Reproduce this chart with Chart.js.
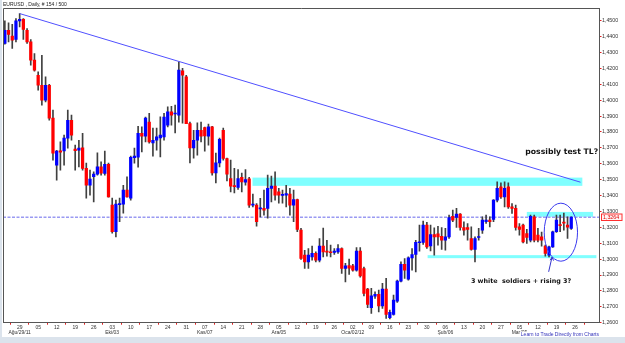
<!DOCTYPE html>
<html>
<head>
    <title>EURUSD Daily</title>
    <script src="https://cdn.jsdelivr.net/npm/chart.js"></script>
    <style>
        body {
            margin: 0;
            padding: 0;
            overflow: hidden;
            background: #dbe3ec;
        }
        #wrap {
            position: absolute;
            left: 2px;
            top: 0;
            width: 623px;
            height: 337px;
            background: #ffffff;
        }
    </style>
</head>
<body>
    <div id="wrap">
        <canvas id="myChart" width="623" height="337"></canvas>
    </div>

    <script>
        // weekdays from 23 Aug 2011, 154 bars + empty room on the right
        const categories = [];
        let d = new Date(Date.UTC(2011, 7, 23));
        while (categories.length < 161) {
            const wd = d.getUTCDay();
            if (wd !== 0 && wd !== 6) categories.push(d.toISOString().slice(0, 10));
            d.setUTCDate(d.getUTCDate() + 1);
        }

        const weekLabels = ['29','05','12','19','26','03','10','17','24','31','07','14','21','28','05','12','19','26',
                            '02','09','16','23','30','06','13','20','27','05','12','19','26'];
        const monthLabels = { 0: 'Ağu/29/11', 5: 'Eki/03', 10: 'Kas/07', 14: 'Ara/05', 18: 'Oca/02/12', 23: 'Şub/06', 27: 'Mar/05' };

        const yTickValues = [1.26, 1.27, 1.28, 1.29, 1.30, 1.31, 1.32, 1.33, 1.34, 1.35,
                             1.36, 1.37, 1.38, 1.39, 1.40, 1.41, 1.42, 1.43, 1.44, 1.45];

        const opens = [
            1.4357,1.4440,1.4403,1.4382,1.4499,1.4508,1.4440,1.4367,1.4252,1.4157,
            1.4094,1.4000,1.4094,1.3887,1.3591,1.3681,1.3681,1.3761,1.3874,1.3692,
            1.3685,1.3700,1.3572,1.3465,1.3518,1.3535,1.3580,1.3539,1.3597,1.3340,
            1.3172,1.3343,1.3346,1.3434,1.3384,1.3638,1.3641,1.3792,1.3774,1.3863,
            1.3731,1.3748,1.3763,1.3769,1.3843,1.3926,1.3913,1.3906,1.4184,1.4147,
            1.3853,1.3700,1.3748,1.3811,1.3828,1.3774,1.3832,1.3543,1.3606,1.3811,
            1.3633,1.3507,1.3462,1.3451,1.3514,1.3484,1.3505,1.3340,1.3340,1.3316,
            1.3319,1.3319,1.3445,1.3459,1.3423,1.3401,1.3402,1.3409,1.3340,1.3375,
            1.3182,1.3025,1.2983,1.3014,1.3036,1.2994,1.3082,1.3048,1.3044,1.3042,
            1.3046,1.3067,1.2941,1.2959,1.2958,1.2931,1.3050,1.2941,1.2811,1.2694,
            1.2767,1.2778,1.2706,1.2811,1.2631,1.2652,1.2736,1.2862,1.2967,1.2874,
            1.3008,1.3029,1.3103,1.3105,1.3214,1.3083,1.3155,1.3159,1.3144,1.3119,
            1.3140,1.3270,1.3262,1.3283,1.3199,1.3199,1.3130,1.3061,1.3136,1.3182,
            1.3235,1.3245,1.3250,1.3371,1.3455,1.3392,1.3455,1.3329,1.3319,1.3203,
            1.3214,1.3161,1.3119,1.3266,1.3151,1.3140,1.3082,1.3025,1.3077,1.3172,
            1.3217,1.3233,1.3214,1.3193
        ];
        const highs = [
            1.4499,1.4486,1.4478,1.4514,1.4545,1.4514,1.4451,1.4382,1.4294,1.4178,
            1.4283,1.4147,1.4100,1.3937,1.3685,1.3738,1.3780,1.3937,1.3906,1.3717,
            1.3748,1.3792,1.3604,1.3560,1.3549,1.3669,1.3612,1.3679,1.3604,1.3384,
            1.3371,1.3384,1.3465,1.3518,1.3648,1.3698,1.3836,1.3832,1.3893,1.3918,
            1.3824,1.3824,1.3895,1.3918,1.3958,1.3962,1.3969,1.4241,1.4201,1.4157,
            1.3863,1.3811,1.3857,1.3863,1.3830,1.3849,1.3836,1.3667,1.3761,1.3824,
            1.3635,1.3623,1.3572,1.3564,1.3541,1.3564,1.3514,1.3409,1.3350,1.3382,
            1.3434,1.3528,1.3522,1.3549,1.3446,1.3434,1.3465,1.3445,1.3434,1.3377,
            1.3193,1.3056,1.3067,1.3082,1.3046,1.3130,1.3195,1.3119,1.3088,1.3067,
            1.3092,1.3071,1.2973,1.3000,1.2967,1.3073,1.3073,1.2950,1.2817,1.2817,
            1.2794,1.2805,1.2847,1.2879,1.2679,1.2773,1.2868,1.2983,1.3004,1.3014,
            1.3067,1.3119,1.3214,1.3239,1.3231,1.3214,1.3197,1.3207,1.3199,1.3193,
            1.3277,1.3308,1.3319,1.3287,1.3235,1.3224,1.3203,1.3140,1.3193,1.3266,
            1.3277,1.3266,1.3375,1.3486,1.3480,1.3486,1.3480,1.3350,1.3340,1.3224,
            1.3220,1.3187,1.3277,1.3277,1.3193,1.3170,1.3088,1.3082,1.3176,1.3277,
            1.3277,1.3289,1.3266,1.3266
        ];
        const lows = [
            1.4352,1.4367,1.4325,1.4367,1.4461,1.4382,1.4357,1.4220,1.4182,1.4063,
            1.3969,1.3989,1.3874,1.3623,1.3497,1.3560,1.3591,1.3698,1.3748,1.3560,
            1.3580,1.3560,1.3384,1.3402,1.3360,1.3528,1.3528,1.3528,1.3390,1.3163,
            1.3140,1.3235,1.3289,1.3390,1.3371,1.3604,1.3579,1.3675,1.3738,1.3729,
            1.3648,1.3685,1.3643,1.3748,1.3832,1.3843,1.3794,1.3862,1.3855,1.3852,
            1.3606,1.3635,1.3654,1.3738,1.3679,1.3717,1.3528,1.3480,1.3580,1.3623,
            1.3492,1.3423,1.3417,1.3438,1.3423,1.3465,1.3325,1.3329,1.3207,1.3266,
            1.3277,1.3258,1.3360,1.3371,1.3352,1.3352,1.3329,1.3277,1.3235,1.3172,
            1.2998,1.2941,1.2941,1.2994,1.2983,1.2983,1.3014,1.3019,1.3014,1.3029,
            1.3036,1.2910,1.2857,1.2904,1.2924,1.2924,1.2887,1.2769,1.2694,1.2658,
            1.2753,1.2668,1.2690,1.2627,1.2623,1.2648,1.2728,1.2857,1.2879,1.2868,
            1.2931,1.2920,1.3050,1.3092,1.3067,1.3052,1.3025,1.3088,1.3061,1.3056,
            1.3130,1.3235,1.3199,1.3182,1.3151,1.3119,1.3056,1.2983,1.3119,1.3161,
            1.3224,1.3203,1.3235,1.3360,1.3382,1.3329,1.3319,1.3287,1.3182,1.3151,
            1.3102,1.3099,1.3108,1.3108,1.3108,1.3082,1.3019,1.3014,1.3073,1.3168,
            1.3172,1.3182,1.3130,1.3187
        ];
        const closes = [
            1.4440,1.4413,1.4377,1.4499,1.4509,1.4445,1.4367,1.4252,1.4189,1.4094,
            1.4000,1.4094,1.3887,1.3667,1.3679,1.3673,1.3761,1.3874,1.3780,1.3682,
            1.3698,1.3570,1.3465,1.3503,1.3535,1.3580,1.3541,1.3597,1.3392,1.3172,
            1.3346,1.3349,1.3434,1.3392,1.3641,1.3648,1.3792,1.3774,1.3887,1.3738,
            1.3748,1.3769,1.3780,1.3893,1.3926,1.3906,1.3918,1.4189,1.4157,1.3853,
            1.3700,1.3748,1.3811,1.3774,1.3775,1.3832,1.3543,1.3606,1.3753,1.3633,
            1.3535,1.3459,1.3456,1.3507,1.3486,1.3501,1.3340,1.3346,1.3235,1.3321,
            1.3308,1.3445,1.3459,1.3402,1.3402,1.3406,1.3413,1.3340,1.3375,1.3187,
            1.3004,1.2983,1.3025,1.3036,1.2994,1.3082,1.3046,1.3044,1.3040,1.3050,
            1.3067,1.2941,1.2958,1.2943,1.2931,1.3050,1.2895,1.2784,1.2715,1.2769,
            1.2778,1.2706,1.2811,1.2652,1.2665,1.2742,1.2862,1.2967,1.2931,1.3008,
            1.3029,1.3105,1.3106,1.3214,1.3077,1.3155,1.3140,1.3140,1.3119,1.3140,
            1.3262,1.3245,1.3283,1.3199,1.3182,1.3187,1.3061,1.3130,1.3140,1.3245,
            1.3245,1.3235,1.3371,1.3445,1.3392,1.3445,1.3329,1.3319,1.3199,1.3187,
            1.3108,1.3136,1.3270,1.3119,1.3119,1.3119,1.3036,1.3077,1.3172,1.3245,
            1.3211,1.3226,1.3201,1.3264
        ];

        const lastPrice = 1.3264;

        // hand drawn marks, in bar index / price units
        const zones = [
            [66.9, 156.0, 1.3513, 1.3461],
            [141.0, 158.9, 1.3297, 1.3266],
            [114.2, 159.8, 1.3025, 1.3006]
        ];
        const trendLine = [[4, 1.4545], [155.5, 1.3484]];
        const circle = [145.7, 154.7, 1.3352, 1.2987];
        const arrow = [[147.8, 1.3012], [146.9, 1.2920]];
        const notes = [
            { text: 'possibly test TL?', at: [140.6, 1.3673], font: 'bold 7.7px "DejaVu Sans"' },
            { text: '3 white  soldiers + rising 3?', at: [125.9, 1.2862], font: 'bold 6.4px "DejaVu Sans"' }
        ];

        const overlay = {
            id: 'overlay',
            beforeDatasetsDraw(chart) {
                const { ctx, chartArea: a, scales: { x, y } } = chart;
                ctx.save();
                ctx.fillStyle = '#80ffff';
                zones.forEach(z => {
                    const x0 = x.getPixelForValue(z[0]), x1 = x.getPixelForValue(z[1]);
                    const y0 = y.getPixelForValue(z[2]), y1 = y.getPixelForValue(z[3]);
                    ctx.fillRect(x0, y0, x1 - x0, y1 - y0);
                });
                const py = y.getPixelForValue(lastPrice);
                ctx.strokeStyle = '#9a9af2';
                ctx.lineWidth = 1.5;
                ctx.setLineDash([3, 1.5]);
                ctx.beginPath();
                ctx.moveTo(a.left, py);
                ctx.lineTo(a.right, py);
                ctx.stroke();
                ctx.restore();
            },
            afterDatasetsDraw(chart) {
                const { ctx, scales: { x, y } } = chart;
                ctx.save();
                // trend line
                ctx.strokeStyle = '#5050ff';
                ctx.lineWidth = 1;
                ctx.beginPath();
                ctx.moveTo(x.getPixelForValue(trendLine[0][0]), y.getPixelForValue(trendLine[0][1]));
                ctx.lineTo(x.getPixelForValue(trendLine[1][0]), y.getPixelForValue(trendLine[1][1]));
                ctx.stroke();
                // circle
                const cx0 = x.getPixelForValue(circle[0]), cx1 = x.getPixelForValue(circle[1]);
                const cy0 = y.getPixelForValue(circle[2]), cy1 = y.getPixelForValue(circle[3]);
                ctx.strokeStyle = '#3a3aee';
                ctx.beginPath();
                ctx.ellipse((cx0 + cx1) / 2, (cy0 + cy1) / 2, (cx1 - cx0) / 2, (cy1 - cy0) / 2, 0, 0, Math.PI * 2);
                ctx.stroke();
                // arrow
                const ax0 = x.getPixelForValue(arrow[0][0]), ay0 = y.getPixelForValue(arrow[0][1]);
                const ax1 = x.getPixelForValue(arrow[1][0]), ay1 = y.getPixelForValue(arrow[1][1]);
                ctx.strokeStyle = '#3333cc';
                ctx.beginPath();
                ctx.moveTo(ax1, ay1);
                ctx.lineTo(ax0, ay0);
                ctx.moveTo(ax0 - 1.8, ay0 + 3);
                ctx.lineTo(ax0, ay0);
                ctx.lineTo(ax0 + 1.6, ay0 + 3.4);
                ctx.stroke();
                // notes
                ctx.fillStyle = '#111';
                ctx.textBaseline = 'middle';
                notes.forEach(n => {
                    ctx.font = n.font;
                    ctx.fillText(n.text, x.getPixelForValue(n.at[0]), y.getPixelForValue(n.at[1]));
                });
                ctx.restore();
            },
            afterDraw(chart) {
                const { ctx, chartArea: a, scales: { y } } = chart;
                ctx.save();
                ctx.strokeStyle = '#555';
                ctx.lineWidth = 1;
                ctx.beginPath();
                ctx.moveTo(a.left + 0.5, a.bottom);
                ctx.lineTo(a.left + 0.5, a.top + 0.5);
                ctx.lineTo(a.right, a.top + 0.5);
                ctx.stroke();
                // last price box
                const py = Math.round(y.getPixelForValue(lastPrice));
                ctx.fillStyle = '#fff4f4';
                ctx.fillRect(a.right + 2, py - 3, 21, 6.5);
                ctx.strokeStyle = '#ff3030';
                ctx.strokeRect(a.right + 2.5, py - 3, 20.5, 6.5);
                ctx.fillStyle = '#e00000';
                ctx.font = '5.3px "Liberation Sans"';
                ctx.textBaseline = 'middle';
                ctx.fillText(lastPrice.toFixed(4).replace('.', ','), a.right + 4, py + 0.3);
                // footer link text
                ctx.font = '5px "Liberation Sans"';
                const label = 'Learn to Trade Directly from Charts';
                const w = ctx.measureText(label).width;
                ctx.fillStyle = '#ffffff';
                ctx.fillRect(a.right - w - 1, chart.height - 5.5, w + 1, 5.5);
                ctx.fillStyle = '#3333bb';
                ctx.textAlign = 'right';
                ctx.fillText(label, a.right, chart.height - 2.3);
                ctx.restore();
            }
        };

        Chart.defaults.font.family = '"Liberation Sans", Arial, sans-serif';
        Chart.defaults.color = '#333';

        new Chart(document.getElementById('myChart'), {
            type: 'bar',
            data: {
                labels: categories,
                datasets: [
                    {
                        label: 'wick',
                        data: lows.map((l, i) => [l, highs[i]]),
                        backgroundColor: '#404040',
                        barThickness: 1,
                        grouped: false,
                        order: 2
                    },
                    {
                        label: 'body',
                        data: opens.map((o, i) => [o, closes[i]]),
                        backgroundColor: opens.map((o, i) => closes[i] >= o ? '#0000ff' : '#ff0000'),
                        barThickness: 2.6,
                        minBarLength: 1,
                        grouped: false,
                        order: 1
                    }
                ]
            },
            options: {
                responsive: false,
                animation: false,
                layout: { padding: { left: 1, right: 0, top: 0, bottom: 0 } },
                plugins: {
                    legend: { display: false },
                    tooltip: { enabled: false },
                    title: {
                        display: true,
                        text: 'EURUSD , Daily, # 154 / 500',
                        align: 'start',
                        color: '#222',
                        font: { size: 5, weight: 'normal', lineHeight: 1.1 },
                        padding: { top: 2, bottom: 0.5 }
                    }
                },
                scales: {
                    x: {
                        offset: true,
                        afterFit: s => { s.height = 14.3; },
                        grid: { drawOnChartArea: false, drawTicks: true, tickLength: 2, color: '#e02020' },
                        border: { color: '#555' },
                        ticks: {
                            autoSkip: false,
                            maxRotation: 0,
                            padding: 0,
                            color: '#333',
                            font: { size: 5, lineHeight: 1.1 },
                            callback: (v, i) => {
                                const w = i - 4;
                                if (w < 0 || w % 5 !== 0) return null;
                                const k = w / 5;
                                if (k >= weekLabels.length) return null;
                                return monthLabels[k] ? [weekLabels[k], monthLabels[k]] : weekLabels[k];
                            }
                        }
                    },
                    y: {
                        position: 'right',
                        min: 1.26,
                        max: 1.458,
                        afterFit: s => { s.width = 26; },
                        afterBuildTicks: s => { s.ticks = yTickValues.map(v => ({ value: v })); },
                        grid: { drawOnChartArea: false, drawTicks: true, tickLength: 2.5, color: '#e02020' },
                        border: { color: '#555' },
                        ticks: {
                            padding: 0.5,
                            color: '#333',
                            font: { size: 5.3 },
                            callback: v => v.toFixed(4).replace('.', ',')
                        }
                    }
                }
            },
            plugins: [overlay]
        });
    </script>
</body>
</html>
